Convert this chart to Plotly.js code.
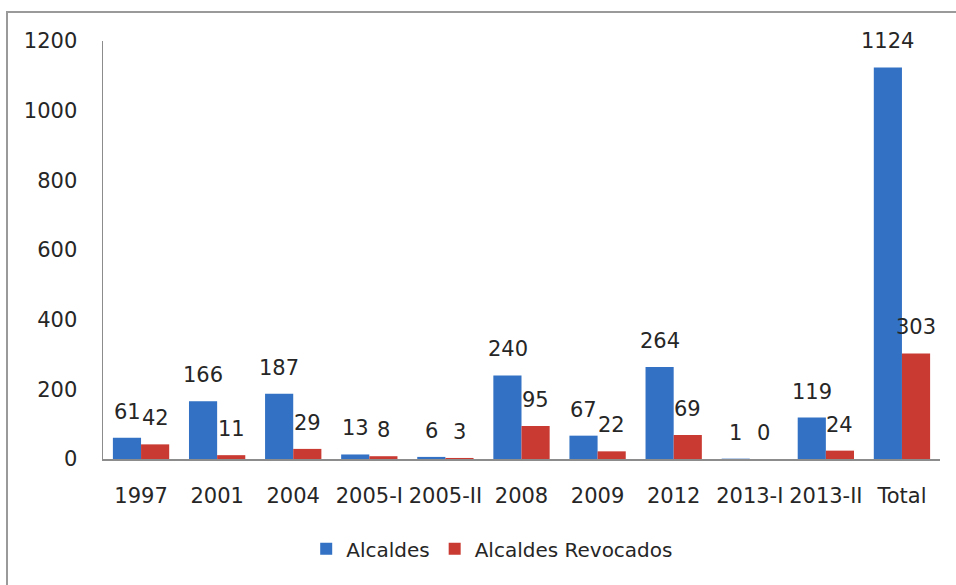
<!DOCTYPE html>
<html>
<head>
<meta charset="utf-8">
<script src="https://cdn.plot.ly/plotly-3.0.1.min.js"></script>
<style>
  html, body { margin: 0; padding: 0; background: #fff; }
  #wrap { position: relative; width: 956px; height: 585px; overflow: hidden; }
  #frame { position: absolute; left: 6px; top: 11px; width: 1000px; height: 1000px;
           border-left: 2px solid #9a9a9a; border-top: 2px solid #9a9a9a; pointer-events: none; }
  #chart { position: absolute; left: 0; top: 0; width: 956px; height: 585px; }
</style>
</head>
<body>
<div id="wrap">
  <div id="chart"></div>
  <div id="frame"></div>
</div>
<script>
const categories = ["1997", "2001", "2004", "2005-I", "2005-II", "2008", "2009", "2012", "2013-I", "2013-II", "Total"];
const alcaldes = [61, 166, 187, 13, 6, 240, 67, 264, 1, 119, 1124];
const revocados = [42, 11, 29, 8, 3, 95, 22, 69, 0, 24, 303];
const seriesNames = ["Alcaldes", "Alcaldes Revocados"];
const yTicks = [0, 200, 400, 600, 800, 1000, 1200];

const FONT = "DejaVu Sans, sans-serif";
const TXT = "#262626";

const traces = [
  { type: "bar", name: seriesNames[0], x: categories, y: alcaldes,
    marker: { color: "#3271C4" }, hoverinfo: "skip" },
  { type: "bar", name: seriesNames[1], x: categories, y: revocados,
    marker: { color: "#C93A32" }, hoverinfo: "skip" }
];

const annotations = [];
[[alcaldes, -14], [revocados, 14]].forEach(([vals, dx]) => {
  vals.forEach((v, i) => {
    annotations.push({
      x: i, y: v, xref: "x", yref: "y",
      text: String(v), showarrow: false,
      xshift: dx, yshift: 26, yanchor: "middle", xanchor: "center",
      font: { family: FONT, size: 21, color: TXT }
    });
  });
});

const layout = {
  width: 956, height: 585,
  margin: { l: 103, r: 16, t: 41, b: 126 },
  paper_bgcolor: "#fff", plot_bgcolor: "#fff",
  font: { family: FONT, size: 21, color: TXT },
  barmode: "group", bargap: 0.26, bargroupgap: 0,
  showlegend: true,
  legend: { orientation: "h", x: 0.465, xanchor: "center", y: -0.215, yanchor: "middle",
            font: { family: FONT, size: 20, color: TXT }, itemclick: false },
  xaxis: { type: "category", range: [-0.5, categories.length - 0.5], showline: true,
           linecolor: "#8c8c8c", linewidth: 1.5,
           ticks: "", showgrid: false, ticklabelstandoff: 17, fixedrange: true },
  yaxis: { range: [0, 1200], tickvals: yTicks, showline: true, linecolor: "#8c8c8c", linewidth: 1.5,
           ticks: "", showgrid: false, zeroline: false, ticklabelstandoff: 20, fixedrange: true },
  annotations: annotations
};

Plotly.newPlot("chart", traces, layout, { displayModeBar: false, staticPlot: true });
</script>
</body>
</html>
